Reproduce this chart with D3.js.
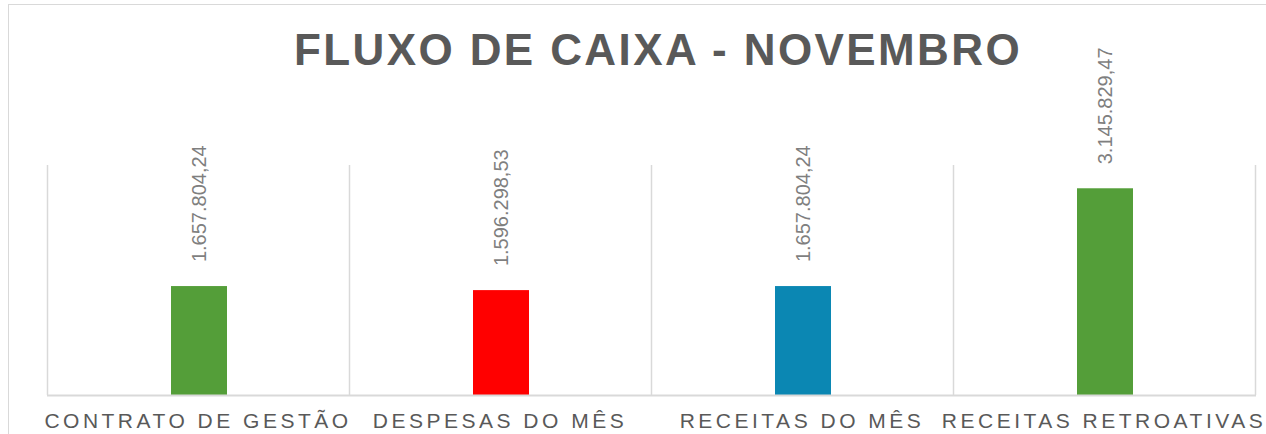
<!DOCTYPE html>
<html>
<head>
<meta charset="utf-8">
<script src="https://d3js.org/d3.v7.min.js"></script>
<style>
  body { margin: 0; background: #fff; }
  text { font-family: "Liberation Sans", Arial, sans-serif; }
</style>
</head>
<body>
<script>
var W = 1266, H = 434;

var categories = ['CONTRATO DE GESTÃO', 'DESPESAS DO MÊS', 'RECEITAS DO MÊS', 'RECEITAS RETROATIVAS'];
var values = [1657804.24, 1596298.53, 1657804.24, 3145829.47];
var labels = ['1.657.804,24', '1.596.298,53', '1.657.804,24', '3.145.829,47'];
var colors = ['#549e39', '#ff0000', '#0b87b3', '#549e39'];

var svg = d3.select('body').append('svg')
    .attr('width', W)
    .attr('height', H);

// chart border (continues past the crop)
svg.append('rect')
    .attr('x', 8.5).attr('y', 4.5)
    .attr('width', W + 20).attr('height', H + 20)
    .attr('fill', 'none')
    .attr('stroke', '#d9d9d9')
    .attr('stroke-width', 1);

svg.append('text')
    .attr('x', 658).attr('y', 65)
    .attr('text-anchor', 'middle')
    .attr('font-size', 44)
    .attr('font-weight', 'bold')
    .attr('letter-spacing', 2.4)
    .attr('fill', '#595959')
    .text('FLUXO DE CAIXA - NOVEMBRO');

var x = d3.scaleBand()
    .domain(categories)
    .range([47, 1255])
    .paddingInner(0)
    .paddingOuter(0);

var y = d3.scaleLinear()
    .domain([0, 3500000])
    .range([395, 165]);

// category separators
var bounds = categories.map(function(c){ return x(c) }).concat([x.range()[1]]);
svg.selectAll('line.grid')
    .data(bounds)
    .enter().append('line')
    .attr('class', 'grid')
    .attr('x1', function(d){ return d + 0.5 })
    .attr('x2', function(d){ return d + 0.5 })
    .attr('y1', 165)
    .attr('y2', 395)
    .attr('stroke', '#d9d9d9')
    .attr('stroke-width', 1.5);

var barW = 56;
svg.selectAll('rect.bar')
    .data(values)
    .enter().append('rect')
    .attr('class', 'bar')
    .attr('x', function(d, i){ return x(categories[i]) + x.bandwidth() / 2 - barW / 2 + 1 })
    .attr('y', function(d){ return y(d) })
    .attr('width', barW)
    .attr('height', function(d){ return y(0) - y(d) })
    .attr('fill', function(d, i){ return colors[i] });

// baseline
svg.append('line')
    .attr('x1', 47).attr('x2', 1256)
    .attr('y1', 395.5).attr('y2', 395.5)
    .attr('stroke', '#d9d9d9')
    .attr('stroke-width', 2);

// value labels, rotated
svg.selectAll('text.val')
    .data(values)
    .enter().append('text')
    .attr('class', 'val')
    .attr('transform', function(d, i){
        var cx = x(categories[i]) + x.bandwidth() / 2 + 8;
        return 'translate(' + cx + ',' + (y(d) - 24) + ') rotate(-90)';
    })
    .attr('font-size', 20)
    .attr('fill', '#7f7f7f')
    .text(function(d, i){ return labels[i] });

// category labels
svg.selectAll('text.cat')
    .data(categories)
    .enter().append('text')
    .attr('class', 'cat')
    .attr('x', function(d){ return x(d) + x.bandwidth() / 2 })
    .attr('y', 428)
    .attr('text-anchor', 'middle')
    .attr('font-size', 21)
    .attr('letter-spacing', 3.5)
    .attr('fill', '#595959')
    .text(function(d){ return d });
</script>
</body>
</html>
